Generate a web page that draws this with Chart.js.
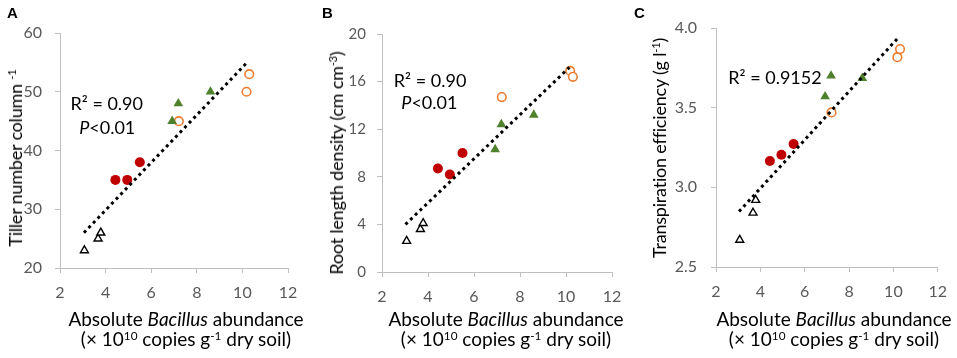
<!DOCTYPE html>
<html>
<head>
<meta charset="utf-8">
<script src="https://cdn.jsdelivr.net/npm/chart.js@4.4.1/dist/chart.umd.min.js"></script>
<style>
  body { margin: 0; background: #fff; }
  #wrap { position: relative; width: 957px; height: 358px; overflow: hidden; font-family: Lato, "Open Sans", sans-serif; color: #000; }
  .panel { position: absolute; top: 0; height: 358px; }
  .letter { position: absolute; top: 4px; font: bold 15px "Liberation Sans", Arial, sans-serif; }
  .xt { position: absolute; top: 309px; transform: translateX(-50%); text-align: center; font-size: 19px; line-height: 20px; white-space: nowrap; }
  .yt { position: absolute; white-space: nowrap; font-size: 18px; letter-spacing: -0.2px; line-height: 20px; transform: translate(-50%, -50%) rotate(-90deg); }
  sup { font-size: 62%; vertical-align: top; position: relative; top: -3px; }
</style>
</head>
<body>
<div id="wrap">
  <div class="panel" style="left:0;width:320px"><canvas id="chartA"></canvas></div>
  <div class="panel" style="left:320px;width:320px"><canvas id="chartB"></canvas></div>
  <div class="panel" style="left:630px;width:327px"><canvas id="chartC"></canvas></div>

  <div class="letter" style="left:7px">A</div>
  <div class="letter" style="left:322px">B</div>
  <div class="letter" style="left:634px">C</div>

  <div class="yt" style="left:15px;top:158px">Tiller number column <sup>-1</sup></div>
  <div class="yt" style="left:336px;top:163px">Root length density (cm cm<sup>-3</sup>)</div>
  <div class="yt" style="left:659px;top:148px">Transpiration efficiency (g l<sup>-1</sup>)</div>

  <div class="xt" style="left:186px">Absolute <i>Bacillus</i> abundance<br>(× 10<sup>10</sup> copies g<sup>-1</sup> dry soil)</div>
  <div class="xt" style="left:506px">Absolute <i>Bacillus</i> abundance<br>(× 10<sup>10</sup> copies g<sup>-1</sup> dry soil)</div>
  <div class="xt" style="left:834px">Absolute <i>Bacillus</i> abundance<br>(× 10<sup>10</sup> copies g<sup>-1</sup> dry soil)</div>
</div>

<script>
// abundancia absoluta de Bacillus (x 10^10 copias / g solo seco), igual nos 3 paineis
const xTicks = [2, 4, 6, 8, 10, 12];
const openTriX    = [3.07, 3.67, 3.79];
const redDotX     = [4.43, 4.95, 5.50];
const greenTriX   = [6.92, 7.19, 8.60];
const orangeRingX = [7.21, 10.18, 10.30];

// A - perfilhos por coluna
const tillerTicks      = [20, 30, 40, 50, 60];
const tillerOpenTri    = [23, 25, 26];
const tillerRedDot     = [35, 35, 38];
const tillerGreenTri   = [45, 48, 50];
const tillerOrangeRing = [45, 50, 53];
const tillerTrendX     = [3.05, 10.26];
const tillerTrendY     = [26.0, 55.2];

// B - densidade de comprimento de raiz
const rootTicks      = [0, 4, 8, 12, 16, 20];
const rootOpenTri    = [2.6, 3.6, 4.1];
const rootRedDot     = [8.7, 8.2, 10.0];
const rootGreenTri   = [10.3, 12.4, 13.2];
const rootOrangeRing = [14.7, 16.9, 16.4];
const rootTrendX     = [3.02, 10.15];
const rootTrendY     = [4.0, 17.2];

// C - eficiencia de transpiracao
const teTicks      = [2.5, 3.0, 3.5, 4.0];
const teOpenTri    = [2.67, 2.84, 2.92];
const teRedDot     = [3.165, 3.205, 3.272];
const teGreenTri   = [3.57, 3.70, 3.685];
const teOrangeRing = [3.47, 3.817, 3.868];
const teTrendX     = [3.04, 10.27];
const teTrendY     = [2.848, 3.947];

function pts(xs, ys) {
  return xs.map(function(x, i) { return { x: x, y: ys[i] }; });
}

// escreve R2 / P no grafico, em coordenadas de dados
const notesPlugin = {
  id: 'notes',
  afterDatasetsDraw: function(chart, args, opts) {
    var ctx = chart.ctx;
    (opts.items || []).forEach(function(it) {
      var px = chart.scales.x.getPixelForValue(it.x);
      var py = chart.scales.y.getPixelForValue(it.y);
      ctx.save();
      ctx.textBaseline = 'middle';
      ctx.fillStyle = '#000';
      var w = 0;
      it.parts.forEach(function(p) {
        ctx.font = (p.italic ? 'italic ' : '') + '18px Lato, sans-serif';
        w += ctx.measureText(p.t).width;
      });
      var cx = px - w / 2;
      it.parts.forEach(function(p) {
        ctx.font = (p.italic ? 'italic ' : '') + '18px Lato, sans-serif';
        ctx.fillText(p.t, cx, py);
        cx += ctx.measureText(p.t).width;
      });
      ctx.restore();
    });
  }
};

function buildPanel(el, d) {
  var axisColor = '#bfbfbf';
  var tickColor = '#595959';
  new Chart(document.getElementById(el), {
    type: 'scatter',
    data: {
      datasets: [
        {
          data: pts(d.trendX, d.trendY),
          showLine: true, pointRadius: 0,
          borderColor: '#000', borderWidth: 3,
          borderDash: [3, 3.6], borderCapStyle: 'butt'
        },
        {
          data: pts(openTriX, d.openTri),
          pointStyle: 'triangle', pointRadius: 4.6,
          backgroundColor: '#fff', borderColor: '#000', borderWidth: 1.4
        },
        {
          data: pts(redDotX, d.redDot),
          pointStyle: 'circle', pointRadius: 5,
          backgroundColor: '#c00000', borderColor: '#c00000', borderWidth: 0
        },
        {
          data: pts(greenTriX, d.greenTri),
          pointStyle: 'triangle', pointRadius: 5.6,
          backgroundColor: '#4f812d', borderColor: '#4f812d', borderWidth: 0
        },
        {
          data: pts(orangeRingX, d.orangeRing),
          pointStyle: 'circle', pointRadius: 4.3,
          backgroundColor: '#fff', borderColor: '#ed7d31', borderWidth: 1.6
        }
      ]
    },
    options: {
      responsive: true,
      maintainAspectRatio: false,
      animation: false,
      events: [],
      layout: { padding: d.pad },
      plugins: {
        legend: { display: false },
        tooltip: { enabled: false },
        notes: { items: d.notes }
      },
      scales: {
        x: {
          type: 'linear',
          min: xTicks[0], max: xTicks[xTicks.length - 1],
          afterBuildTicks: function(s) { s.ticks = xTicks.map(function(v) { return { value: v }; }); },
          afterFit: function(s) { s.height = 45; },
          ticks: { color: tickColor, font: { family: 'Lato', size: 16 }, padding: 10, maxRotation: 0 },
          grid: { drawOnChartArea: false, drawTicks: true, tickLength: 5, color: axisColor },
          border: { color: axisColor, width: 1 }
        },
        y: {
          min: d.yTicks[0], max: d.yTicks[d.yTicks.length - 1],
          afterBuildTicks: function(s) { s.ticks = d.yTicks.map(function(v) { return { value: v }; }); },
          afterFit: function(s) { s.width = d.yWidth; },
          ticks: {
            color: tickColor, font: { family: 'Lato', size: d.yFont }, padding: d.yPad,
            callback: function(v) { return d.decimals ? v.toFixed(d.decimals) : v; }
          },
          grid: { drawOnChartArea: false, drawTicks: true, tickLength: 5, color: axisColor },
          border: { color: axisColor, width: 1 }
        }
      }
    },
    plugins: [notesPlugin]
  });
}

buildPanel('chartA', {
  yTicks: tillerTicks, openTri: tillerOpenTri, redDot: tillerRedDot,
  greenTri: tillerGreenTri, orangeRing: tillerOrangeRing,
  trendX: tillerTrendX, trendY: tillerTrendY,
  pad: { left: 0, top: 33, right: 32, bottom: 45 },
  yWidth: 60, yFont: 16, yPad: 13, decimals: 0,
  notes: [
    { x: 4.05, y: 47.8, parts: [{ t: 'R² = 0.90' }] },
    { x: 4.07, y: 43.8, parts: [{ t: 'P', italic: true }, { t: '<0.01' }] }
  ]
});

buildPanel('chartB', {
  yTicks: rootTicks, openTri: rootOpenTri, redDot: rootRedDot,
  greenTri: rootGreenTri, orangeRing: rootOrangeRing,
  trendX: rootTrendX, trendY: rootTrendY,
  pad: { left: 0, top: 34, right: 28, bottom: 41 },
  yWidth: 62, yFont: 15, yPad: 11, decimals: 0,
  notes: [
    { x: 4.09, y: 16.0, parts: [{ t: 'R² = 0.90' }] },
    { x: 4.06, y: 14.2, parts: [{ t: 'P', italic: true }, { t: '<0.01' }] }
  ]
});

buildPanel('chartC', {
  yTicks: teTicks, openTri: teOpenTri, redDot: teRedDot,
  greenTri: teGreenTri, orangeRing: teOrangeRing,
  trendX: teTrendX, trendY: teTrendY,
  pad: { left: 0, top: 28, right: 19, bottom: 46 },
  yWidth: 86, yFont: 16, yPad: 14, decimals: 1,
  notes: [
    { x: 4.66, y: 3.686, parts: [{ t: 'R² = 0.9152' }] }
  ]
});
</script>
</body>
</html>
